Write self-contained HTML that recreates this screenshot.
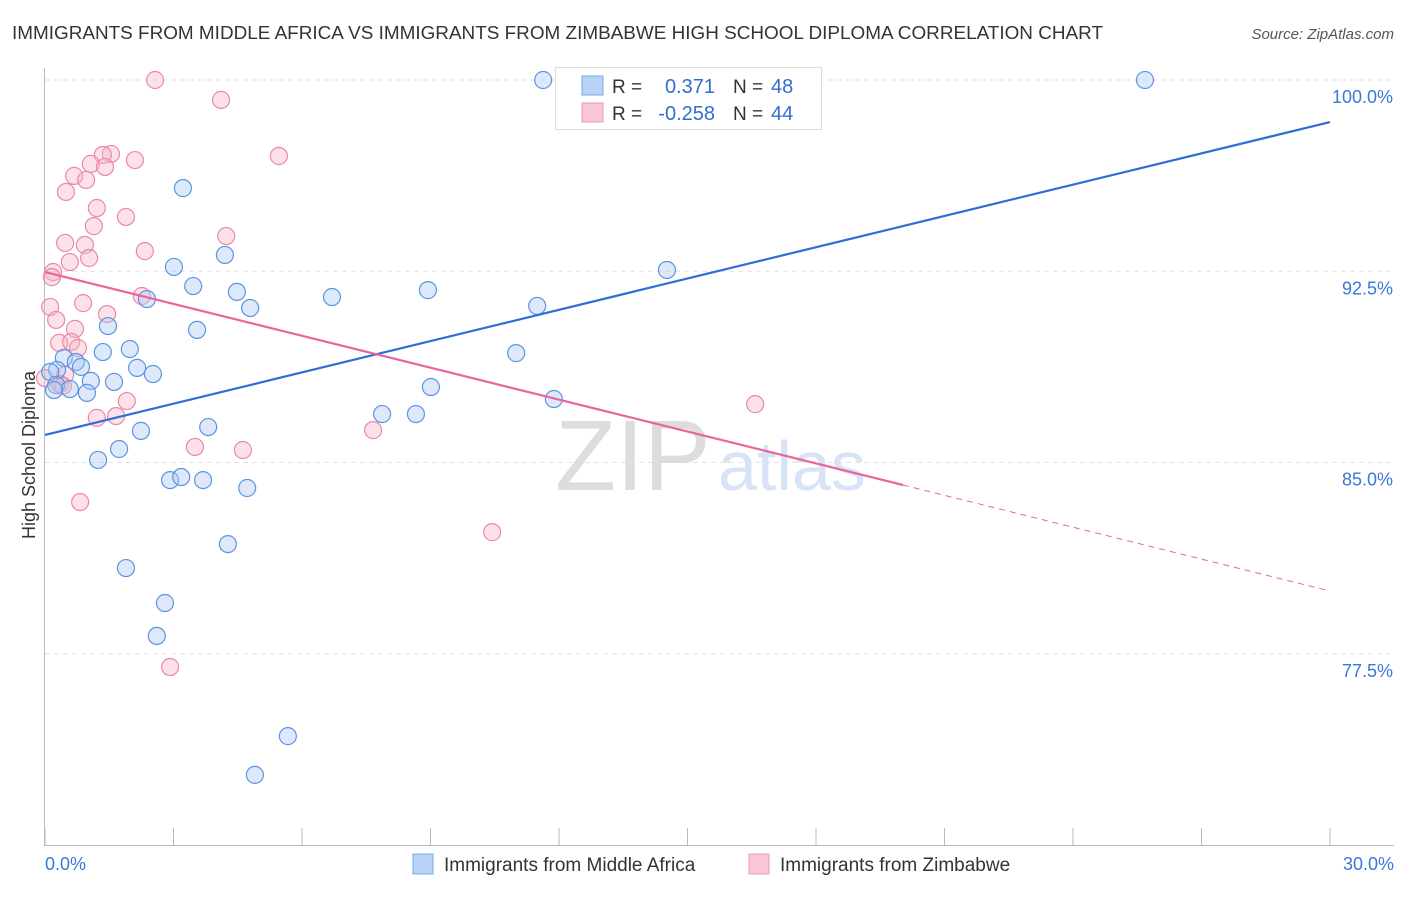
<!DOCTYPE html>
<html><head><meta charset="utf-8"><style>
body{margin:0;background:#fff;font-family:"Liberation Sans",sans-serif;}
svg text{font-family:"Liberation Sans",sans-serif;}
</style></head><body>
<svg id="chart" width="1406" height="892" viewBox="0 0 1406 892">
<text x="12" y="39" font-size="18" fill="#333" textLength="1091" lengthAdjust="spacingAndGlyphs">IMMIGRANTS FROM MIDDLE AFRICA VS IMMIGRANTS FROM ZIMBABWE HIGH SCHOOL DIPLOMA CORRELATION CHART</text>
<text x="1394" y="39" font-size="15" fill="#555" font-style="italic" text-anchor="end">Source: ZipAtlas.com</text>
<text x="35" y="455" font-size="18" fill="#333" text-anchor="middle" transform="rotate(-90 35 455)">High School Diploma</text>
<g id="grid"></g>
<g id="axes"></g>
<text x="555" y="490" font-size="100" fill="#ddd" font-family="Liberation Serif">ZIP</text>
<text x="718" y="490" font-size="70" fill="#d6e4f5">atlas</text>
<g id="marks"></g>
<g>
<rect x="555.5" y="67.5" width="266" height="62" fill="#fff" stroke="#ddd"/>
<rect x="582" y="76" width="21" height="19" fill="#b8d2f5" stroke="#7aa8e8"/>
<rect x="582" y="103" width="21" height="19" fill="#f9c6d6" stroke="#ec9ab4"/>
<text x="612" y="93" font-size="19" fill="#333">R = </text><text x="715" y="93" font-size="20" fill="#2f6fd0" text-anchor="end">0.371</text>
<text x="733" y="93" font-size="19" fill="#333">N = </text><text x="771" y="93" font-size="20" fill="#2f6fd0">48</text>
<text x="612" y="120" font-size="19" fill="#333">R = </text><text x="715" y="120" font-size="20" fill="#2f6fd0" text-anchor="end">-0.258</text>
<text x="733" y="120" font-size="19" fill="#333">N = </text><text x="771" y="120" font-size="20" fill="#2f6fd0">44</text>
</g>
<g>
<rect x="413" y="854" width="20" height="20" fill="#b8d2f5" stroke="#7aa8e8"/>
<text x="444" y="871" font-size="19" fill="#333">Immigrants from Middle Africa</text>
<rect x="749" y="854" width="20" height="20" fill="#f9c6d6" stroke="#ec9ab4"/>
<text x="780" y="871" font-size="19" fill="#333">Immigrants from Zimbabwe</text>
</g>
</svg>
<script>
const blueX=[11.63,25.68,3.22,3.01,4.20,3.46,4.48,2.38,4.79,6.70,8.94,11.49,14.52,1.47,3.55,0.44,1.35,1.98,0.72,0.84,2.15,2.52,1.07,1.61,0.28,0.12,0.26,0.58,0.98,0.21,11.00,9.01,11.88,7.87,8.66,3.81,2.24,1.73,1.24,2.92,3.18,3.69,4.72,4.27,1.89,2.80,2.61,5.67,4.90];
const blueY=[100,100,95.76,92.67,93.14,91.92,91.69,91.41,91.06,91.49,91.76,91.14,92.55,90.35,90.20,89.10,89.33,89.45,88.94,88.75,88.71,88.47,88.20,88.16,88.63,88.55,88.04,87.88,87.73,87.84,89.29,87.96,87.49,86.90,86.90,86.39,86.24,85.53,85.10,84.31,84.43,84.31,84.00,81.80,80.86,79.49,78.20,74.27,72.75];
const pinkX=[2.57,4.11,5.46,1.54,1.35,2.10,1.07,1.40,0.68,0.96,0.49,1.21,1.89,1.14,0.47,0.93,4.23,2.33,1.03,0.58,0.19,0.16,0.89,2.26,0.12,0.26,0.70,1.45,0.33,0.61,0.77,0.47,0.35,0.42,1.91,1.66,1.21,3.50,4.62,7.66,16.58,0.82,10.44,2.92,0.0];
const pinkY=[100,99.22,97.02,97.10,97.06,96.86,96.71,96.59,96.24,96.08,95.61,94.98,94.63,94.27,93.61,93.53,93.88,93.29,93.02,92.86,92.47,92.27,91.25,91.53,91.10,90.59,90.24,90.82,89.69,89.73,89.49,88.43,88.08,88.00,87.41,86.82,86.75,85.61,85.49,86.27,87.29,83.45,82.27,76.98,88.31];
const blueTrend=[86.08,98.35];
const pinkTrend=[92.47,79.96];
const pinkSolidEnd=20.03;
const yTicks=[100,92.5,85,77.5];
const yTickLabels=["100.0%","92.5%","85.0%","77.5%"];
const xTickLabels=["0.0%","30.0%"];

const NS="http://www.w3.org/2000/svg";
const sx=v=>45+v/30*1285;
const sy=v=>80+(100-v)*25.5;
function mk(tag,attrs,parent){const e=document.createElementNS(NS,tag);for(const k in attrs)e.setAttribute(k,attrs[k]);parent.appendChild(e);return e;}
const grid=document.getElementById('grid'),axes=document.getElementById('axes'),marks=document.getElementById('marks');
yTicks.forEach((t,i)=>{
  const l=mk('line',{x1:45,x2:1394,y1:sy(t),y2:sy(t),stroke:'#e2e2e2','stroke-dasharray':'5,4'},grid);
  
  
  const tx=mk('text',{x:1393,y:sy(t)+23,'font-size':18,fill:'#3a78d8','text-anchor':'end'},axes);
  tx.textContent=yTickLabels[i];
  
  
});
const ya=mk('line',{x1:44.5,x2:44.5,y1:68,y2:845,stroke:'#bbb'},axes);


const xa=mk('line',{x1:44,x2:1394,y1:845.5,y2:845.5,stroke:'#bbb'},axes);


for(let i=0;i<=10;i++){
  const x=sx(i*3);
  const tk=mk('line',{x1:x,x2:x,y1:828,y2:845,stroke:'#bbb'},axes);
  
  
}
[[0,'start',45],[30,'end',1394]].forEach((d,i)=>{
  const tx=mk('text',{x:d[2],y:870,'font-size':18,fill:'#3a78d8','text-anchor':d[1]},axes);
  tx.textContent=xTickLabels[i];
  
  
});
function dots(xs,ys,fill,stroke,name){
  xs.forEach((v,i)=>{
    const c=mk('circle',{cx:sx(v),cy:sy(ys[i]),r:8.5,fill:fill,'fill-opacity':0.4,stroke:stroke,'stroke-width':1.2},marks);
    
    
  });
}
dots(pinkX,pinkY,'#f7b3c9','#e98aa8','point-zimbabwe');
dots(blueX,blueY,'#a9c9f2','#5b95e0','point-middle-africa');
const bl=mk('line',{x1:sx(0),y1:sy(blueTrend[0]),x2:sx(30),y2:sy(blueTrend[1]),stroke:'#2d6fd6','stroke-width':2.2},marks);


const pAt=x=>pinkTrend[0]+(pinkTrend[1]-pinkTrend[0])*x/30;
const pl=mk('line',{x1:sx(0),y1:sy(pinkTrend[0]),x2:sx(pinkSolidEnd),y2:sy(pAt(pinkSolidEnd)),stroke:'#e8649a','stroke-width':2.2},marks);


const pd=mk('line',{x1:sx(pinkSolidEnd),y1:sy(pAt(pinkSolidEnd)),x2:sx(30),y2:sy(pinkTrend[1]),stroke:'#e8649a','stroke-width':1,'stroke-dasharray':'6,5'},marks);


</script>
</body></html>
